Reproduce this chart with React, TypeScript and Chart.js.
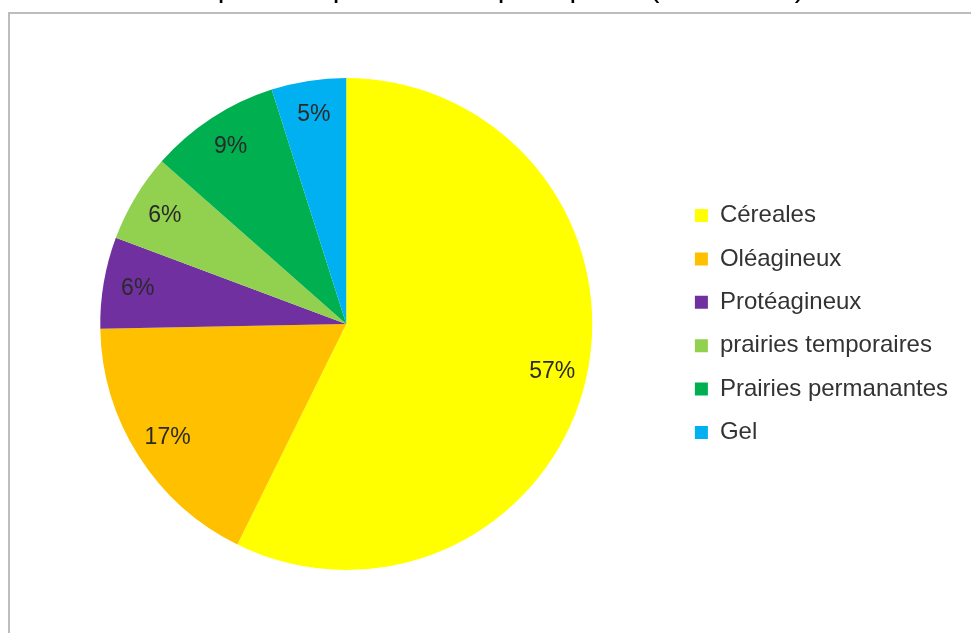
import React, { useEffect, useRef } from "react";
import { Chart, registerables } from "chart.js";

Chart.register(...registerables);

const titleText = "Répartition par cultures principales (de la SAU)";
const categories = [
  "Céreales",
  "Oléagineux",
  "Protéagineux",
  "prairies temporaires",
  "Prairies permanantes",
  "Gel",
];
const shares = [57.3, 17.4, 6.0, 5.8, 8.6, 4.9];
const sliceColors = ["#FFFF00", "#FFC000", "#7030A0", "#92D050", "#00B050", "#00B0F0"];

const FONT = '"Liberation Sans", Arial, sans-serif';

const framePlugin = {
  id: "framePlugin",
  beforeDraw(chart: any) {
    const { ctx, width, height } = chart;
    ctx.save();
    ctx.fillStyle = "#ffffff";
    ctx.fillRect(0, 0, width, height);
    ctx.strokeStyle = "#bdbdbd";
    ctx.lineWidth = 2;
    ctx.beginPath();
    ctx.moveTo(9, height + 5);
    ctx.lineTo(9, 13);
    ctx.lineTo(width + 5, 13);
    ctx.stroke();
    ctx.fillStyle = "#000000";
    ctx.font = "30px " + FONT;
    ctx.textAlign = "center";
    ctx.textBaseline = "alphabetic";
    ctx.fillText(titleText, 492, -3);
    ctx.restore();
  },
};

const labelPlugin = {
  id: "labelPlugin",
  afterDatasetsDraw(chart: any) {
    const { ctx } = chart;
    const meta = chart.getDatasetMeta(0);
    const data = chart.data.datasets[0].data as number[];
    const total = data.reduce((a, b) => a + b, 0);
    ctx.save();
    ctx.font = "23px " + FONT;
    ctx.fillStyle = "#2a2a2a";
    ctx.textAlign = "center";
    ctx.textBaseline = "middle";
    meta.data.forEach((arc: any, i: number) => {
      const p = arc.getProps(["x", "y", "startAngle", "endAngle", "outerRadius"], true);
      const mid = (p.startAngle + p.endAngle) / 2;
      const r = p.outerRadius * 0.86;
      const x = p.x + Math.cos(mid) * r;
      const y = p.y + Math.sin(mid) * r;
      ctx.fillText(Math.round((data[i] / total) * 100) + "%", x, y);
    });
    ctx.restore();
  },
};

export default function App() {
  const canvasRef = useRef<HTMLCanvasElement | null>(null);

  useEffect(() => {
    if (!canvasRef.current) return;
    const chart = new Chart(canvasRef.current, {
      type: "pie",
      data: {
        labels: categories,
        datasets: [
          {
            data: shares,
            backgroundColor: sliceColors,
            borderWidth: 0,
          },
        ],
      },
      options: {
        animation: false,
        responsive: true,
        maintainAspectRatio: false,
        layout: { padding: { top: 78, bottom: 63, left: 17, right: 13 } },
        plugins: {
          legend: {
            position: "right",
            labels: {
              font: { size: 24, family: FONT },
              color: "#333333",
              boxWidth: 13,
              boxHeight: 13,
              padding: 19.4,
            },
          },
          tooltip: { enabled: false },
          title: { display: false },
        },
      },
      plugins: [framePlugin, labelPlugin],
    });
    return () => chart.destroy();
  }, []);

  return (
    <div style={{ position: "fixed", left: 0, top: 0, width: 971, height: 633, background: "#fff" }}>
      <canvas ref={canvasRef} />
    </div>
  );
}
